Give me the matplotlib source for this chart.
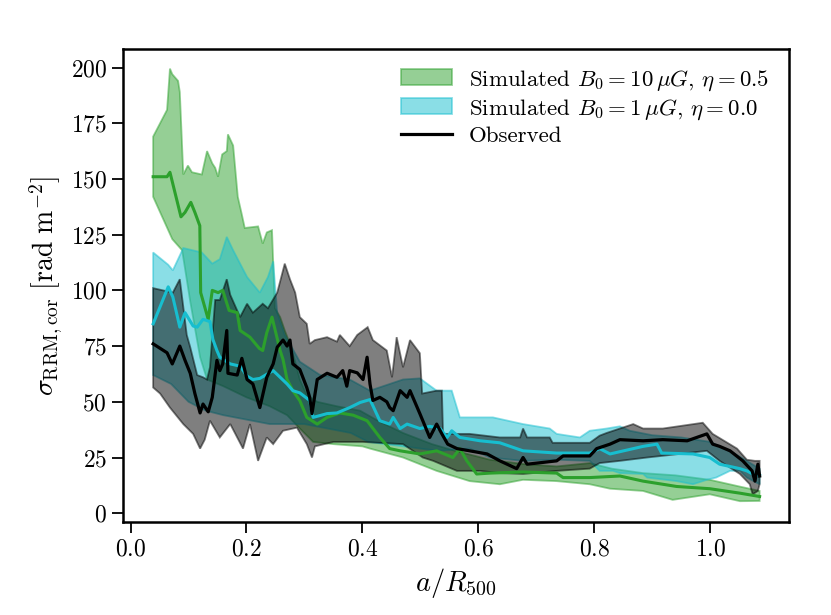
import numpy as np
import matplotlib
matplotlib.use('agg')
from matplotlib import pyplot

# green band: B0 = 10 muG, eta = 0.5
g_up_x = [0.039, 0.063, 0.068, 0.072, 0.082, 0.085, 0.091, 0.099, 0.106, 0.123, 0.132, 0.141, 0.146,
          0.151, 0.158, 0.166, 0.168, 0.177, 0.185, 0.192, 0.197, 0.220, 0.228, 0.235, 0.244, 0.249,
          0.258, 0.266, 0.275, 0.284, 0.292, 0.304, 0.322, 0.356, 0.396, 0.430, 0.470, 0.520, 0.560,
          0.620, 0.680, 0.735, 0.792, 0.830, 0.884, 0.940, 0.999, 1.050, 1.085]
g_up = [169, 181, 199.5, 197, 194, 189, 152, 156, 153, 152, 162.5, 157, 155,
        151, 161, 162.5, 170, 165, 142, 134, 128, 128.7, 121, 126, 127, 92,
        88, 82, 76, 68, 60, 53, 50, 48, 46, 41, 36, 31, 28,
        24, 22, 21, 22.5, 20, 18, 17, 15, 12, 10]
g_lo_x = [0.039, 0.072, 0.089, 0.103, 0.120, 0.132, 0.160, 0.200, 0.240, 0.270, 0.292, 0.315, 0.350,
          0.400, 0.413, 0.470, 0.528, 0.585, 0.637, 0.677, 0.735, 0.792, 0.827, 0.884, 0.935, 0.999,
          1.051, 1.085]
g_lo = [142, 123, 118, 95, 70, 60, 57, 52, 48, 44, 38, 32, 31,
        30, 29, 25, 19, 14.4, 13, 15, 14.4, 13, 11, 10, 6, 8.5,
        5.4, 5.5]
g_med_x = [0.039, 0.063, 0.068, 0.087, 0.094, 0.104, 0.111, 0.1195, 0.121, 0.134, 0.141, 0.151, 0.159,
           0.170, 0.184, 0.189, 0.206, 0.222, 0.228, 0.235, 0.244, 0.258, 0.263, 0.270, 0.280, 0.292,
           0.304, 0.322, 0.339, 0.361, 0.384, 0.408, 0.430, 0.447, 0.465, 0.499, 0.528, 0.556, 0.568,
           0.580, 0.597, 0.620, 0.677, 0.735, 0.746, 0.792, 0.844, 0.884, 0.942, 0.999, 1.051, 1.085]
g_med = [151, 151, 153, 133, 135, 139.5, 135, 129, 99, 87, 100, 99, 100,
         91, 90, 82, 79, 74, 73, 81, 88, 73, 69, 60, 55, 50.5,
         43, 40, 43, 45, 44, 41.5, 34, 29, 28, 26.6, 28, 25, 29,
         23.5, 17.6, 18, 18.5, 18, 16, 16, 16.7, 14.4, 12, 11, 9, 7.5]

# cyan band: B0 = 1 muG, eta = 0.0
c_up_x = [0.039, 0.065, 0.073, 0.091, 0.123, 0.141, 0.154, 0.166, 0.177, 0.201, 0.223, 0.237, 0.246,
          0.253, 0.266, 0.292, 0.327, 0.378, 0.413, 0.470, 0.499, 0.528, 0.554, 0.568, 0.625, 0.677,
          0.723, 0.735, 0.775, 0.792, 0.821, 0.844, 0.861, 0.900, 0.950, 1.000, 1.040, 1.085]
c_up = [117, 111.5, 109, 119, 117, 112, 114, 124, 118, 106, 99, 106, 113,
        90, 80, 68, 62, 60, 55, 60, 60.5, 55, 55, 43, 43, 40,
        38, 35.6, 34, 37, 38, 39, 37, 35, 34, 32, 27, 20]
c_lo_x = [0.039, 0.070, 0.100, 0.130, 0.160, 0.200, 0.240, 0.280, 0.300, 0.340, 0.380, 0.410, 0.470,
          0.530, 0.585, 0.620, 0.677, 0.735, 0.792, 0.809, 0.832, 0.844, 0.884, 0.891, 0.942, 0.970,
          0.994, 1.010, 1.034, 1.051, 1.063, 1.085]
c_lo = [62, 58, 50, 46, 44, 42, 40, 40, 40, 38, 36, 32, 30,
        28, 29, 25, 23.5, 24, 23.5, 19, 19, 18, 17.6, 16, 14.4, 13,
        15, 16, 19, 19, 16, 13]
c_med_x = [0.039, 0.065, 0.073, 0.085, 0.094, 0.108, 0.115, 0.125, 0.137, 0.142, 0.149, 0.154, 0.172,
           0.189, 0.201, 0.211, 0.223, 0.246, 0.258, 0.270, 0.280, 0.292, 0.309, 0.315, 0.339, 0.356,
           0.378, 0.396, 0.413, 0.430, 0.447, 0.453, 0.465, 0.477, 0.499, 0.516, 0.534, 0.546, 0.554,
           0.568, 0.603, 0.637, 0.677, 0.735, 0.792, 0.809, 0.827, 0.884, 0.908, 0.916, 0.970, 0.999,
           1.016, 1.051, 1.063, 1.073, 1.085]
c_med = [85, 101.6, 97, 83.5, 90, 84, 83.5, 87, 86, 78, 73, 70, 67,
         66, 61.5, 60, 60.5, 64, 61, 58, 55, 54, 50.6, 43, 44.7, 45,
         47.4, 49.7, 51, 41.5, 40, 43, 38, 40, 38, 39, 38, 34, 37,
         34, 32.5, 31.6, 28, 27, 27, 29, 26.6, 30, 31, 27, 26.6, 25,
         22, 20, 19, 17.6, 17]

# observed
o_up_x = [0.039, 0.073, 0.085, 0.091, 0.097, 0.103, 0.115, 0.125, 0.132, 0.137, 0.146, 0.154, 0.166,
          0.172, 0.189, 0.201, 0.211, 0.228, 0.237, 0.253, 0.266, 0.275, 0.284, 0.292, 0.304, 0.309,
          0.318, 0.339, 0.356, 0.361, 0.378, 0.391, 0.409, 0.418, 0.442, 0.451, 0.459, 0.470, 0.482,
          0.499, 0.503, 0.528, 0.537, 0.539, 0.585, 0.637, 0.672, 0.677, 0.684, 0.723, 0.728, 0.792,
          0.809, 0.821, 0.867, 0.884, 0.918, 0.987, 1.004, 1.046, 1.063, 1.077, 1.085]
o_up = [101, 99, 105, 92.6, 80, 74.5, 62, 61, 60, 65.5, 95.7, 95.7, 105,
        98, 88, 94, 90, 94, 92, 99, 112, 105, 99, 88, 85, 76,
        77.7, 79, 77, 80, 75, 80, 83.5, 77.7, 73, 61, 79, 65.5, 77.7,
        71.8, 53.7, 55, 55, 35.6, 35.6, 34, 34, 38, 34, 34, 31.6, 31.6,
        34.8, 36, 40, 38, 38, 40.6, 35.6, 29, 24, 23.5, 23.5]
o_lo_x = [0.039, 0.051, 0.068, 0.091, 0.108, 0.120, 0.128, 0.137, 0.154, 0.172, 0.194, 0.206, 0.220,
          0.235, 0.246, 0.263, 0.287, 0.304, 0.313, 0.318, 0.350, 0.400, 0.470, 0.504, 0.522, 0.563,
          0.603, 0.637, 0.677, 0.735, 0.792, 0.809, 0.844, 0.891, 0.947, 0.994, 1.016, 1.051, 1.068,
          1.073, 1.082, 1.085]
o_lo = [56.4, 53.7, 47.4, 40, 35.6, 29, 33, 41.5, 34, 40, 29, 40, 23.5,
        34, 31, 37, 38.4, 31, 25, 30, 32, 32, 31, 25, 23.5, 19,
        19, 18, 17.6, 19, 20, 22.5, 23.5, 25, 26.6, 28, 23.5, 17.6, 13,
        8.5, 10, 13]
o_med_x = [0.039, 0.063, 0.072, 0.085, 0.094, 0.103, 0.111, 0.120, 0.125, 0.134, 0.141, 0.149, 0.154,
           0.159, 0.166, 0.168, 0.184, 0.192, 0.201, 0.211, 0.223, 0.235, 0.246, 0.253, 0.263, 0.270,
           0.275, 0.280, 0.292, 0.304, 0.309, 0.313, 0.322, 0.339, 0.356, 0.366, 0.373, 0.378, 0.391,
           0.401, 0.408, 0.413, 0.418, 0.430, 0.442, 0.447, 0.453, 0.465, 0.477, 0.482, 0.499, 0.516,
           0.528, 0.537, 0.547, 0.563, 0.585, 0.615, 0.637, 0.666, 0.677, 0.684, 0.735, 0.746, 0.792,
           0.804, 0.827, 0.844, 0.884, 0.918, 0.960, 0.994, 1.004, 1.016, 1.034, 1.056, 1.072, 1.077,
           1.082, 1.085]
o_med = [76, 72, 67, 75, 68.6, 62.8, 53.7, 45, 49, 45.5, 52, 68.6, 64,
         67, 82, 62.8, 62, 69.5, 60, 58, 47.4, 61, 67, 74.5, 77.7, 75,
         77.7, 67, 64.5, 56.4, 52, 44.7, 60, 62.8, 61, 64, 57, 64, 63,
         60, 70, 58, 50.6, 52, 50, 47.4, 46, 55, 52, 55, 44.7, 34,
         40, 35.6, 31, 29, 28, 26.6, 23.5, 20, 25, 22, 23.5, 25.7, 25.7,
         29, 31, 33, 32.5, 33, 32.5, 35.6, 31, 30, 28, 23.5, 19, 14.4,
         22, 16.7]

pyplot.rcParams['font.family'] = 'serif'
pyplot.rcParams['font.serif'] = ['cmr10']
pyplot.rcParams['mathtext.fontset'] = 'cm'
pyplot.rcParams['axes.formatter.use_mathtext'] = True

fig = pyplot.figure(figsize=(8.31, 6.15), dpi=100)
ax = fig.add_axes([0.148, 0.151, 0.801, 0.770])

green = '#2ca02c'
cyan = '#17becf'

bands = [(g_up_x, g_up, g_lo_x, g_lo, green, r'Simulated $B_0 = 10\,\mu G$, $\eta = 0.5$'),
         (c_up_x, c_up, c_lo_x, c_lo, cyan, r'Simulated $B_0 = 1\,\mu G$, $\eta = 0.0$'),
         (o_up_x, o_up, o_lo_x, o_lo, 'black', None)]
for ux, uy, lx, ly, col, lab in bands:
    px = np.concatenate([ux, lx[::-1]])
    py = np.concatenate([uy, ly[::-1]])
    ax.fill(px, py, facecolor=col, edgecolor=col, alpha=0.5, linewidth=1.3, label=lab)

ax.plot(g_med_x, g_med, color=green, linewidth=2.2)
ax.plot(c_med_x, c_med, color=cyan, linewidth=2.2)
ax.plot(o_med_x, o_med, color='black', linewidth=2.3, label='Observed')

ax.set_xlim(-0.013, 1.135)
ax.set_ylim(-4.0, 208.5)
ax.set_xticks([0.0, 0.2, 0.4, 0.6, 0.8, 1.0])
ax.set_yticks(np.arange(0, 201, 25))
ax.tick_params(axis='both', labelsize=17, length=8, width=1.3, direction='out')
for s in ax.spines.values():
    s.set_linewidth(1.8)

ax.set_xlabel(r'$a/R_{500}$', fontsize=20.5)
ax.set_ylabel(r'$\sigma_{\mathrm{RRM,cor}}\ [\mathrm{rad\ m}^{-2}]$', fontsize=20)
ax.legend(loc='upper right', frameon=False, fontsize=16.5, handlelength=2.2,
          labelspacing=0.2, handletextpad=0.75, borderaxespad=0.45)

fig.savefig('out.png', dpi=100)
